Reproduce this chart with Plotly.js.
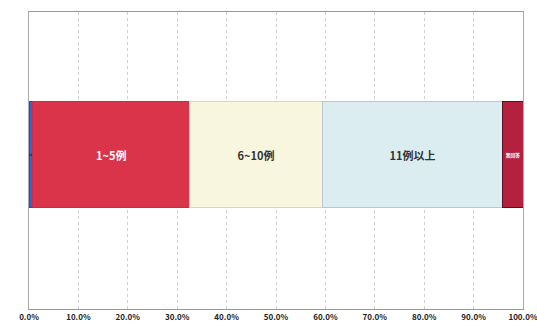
<!DOCTYPE html>
<html>
<head>
<meta charset="utf-8">
<script src="https://cdn.plot.ly/plotly-3.0.1.min.js"></script>
<style>html,body{margin:0;padding:0;background:#fff;}#chart{width:537px;height:324px;}</style>
</head>
<body>
<div id="chart"></div>
<script>
const categories = ["0例", "1~5例", "6~10例", "11例以上", "無回答"];
const shares = [0.8, 31.7, 26.9, 36.5, 4.1];
const colors = ["#3b62d4", "#d93449", "#f8f6de", "#dcedf1", "#b4213f"];
const textColors = ["#222222", "#ffffff", "#333333", "#333333", "#ffffff"];
const lineColors = ["#2c4aa8", "#d02a40", "#d8d6c0", "#b8c8cc", "#5a1020"];
const tickVals = [0, 10, 20, 30, 40, 50, 60, 70, 80, 90, 100];
const tickText = ["0.0%", "10.0%", "20.0%", "30.0%", "40.0%", "50.0%", "60.0%", "70.0%", "80.0%", "90.0%", "100.0%"];

const traces = categories.map((c, i) => ({
  type: "bar",
  orientation: "h",
  x: [shares[i]],
  y: ["all"],
  name: c,
  text: [c],
  textposition: "inside",
  insidetextanchor: "middle",
  textangle: 0,
  constraintext: "inside",
  textfont: {color: textColors[i], size: 11, family: "Noto Sans CJK JP", weight: "bold"},
  marker: {color: colors[i], line: {color: lineColors[i], width: 1}},
  width: 0.355,
  hoverinfo: "none"
}));

const layout = {
  width: 537, height: 324,
  margin: {l: 29, r: 14, t: 12, b: 15},
  barmode: "stack",
  showlegend: false,
  paper_bgcolor: "#ffffff",
  plot_bgcolor: "#ffffff",
  font: {family: "Noto Sans CJK JP", color: "#222"},
  xaxis: {
    range: [0, 100],
    tickvals: tickVals,
    ticktext: tickText,
    tickfont: {size: 8, color: "#222", weight: "bold"},
    ticklabeloverflow: "allow",
    showgrid: true,
    gridcolor: "#d0d0d0",
    griddash: "dot",
    gridwidth: 1,
    showline: true,
    linecolor: "#999",
    mirror: true,
    zeroline: false,
    ticks: ""
  },
  yaxis: {
    range: [-0.52, 0.48],
    showticklabels: false,
    showgrid: false,
    zeroline: false,
    showline: true,
    linecolor: "#aaa",
    mirror: true
  }
};

Plotly.newPlot("chart", traces, layout, {staticPlot: true, displayModeBar: false});
</script>
</body>
</html>
